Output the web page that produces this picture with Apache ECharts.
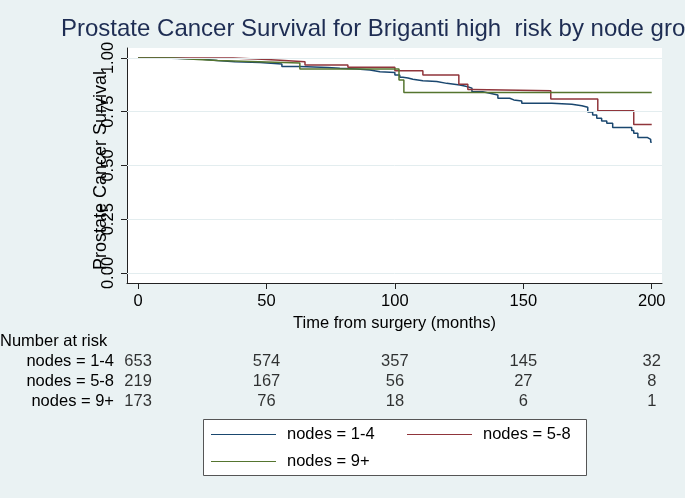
<!DOCTYPE html>
<html>
<head>
<meta charset="utf-8">
<script src="https://cdn.jsdelivr.net/npm/echarts@6/dist/echarts.min.js"></script>
<style>
  html, body { margin: 0; padding: 0; background: #EAF2F3; }
  #myChart { width: 685px; height: 498px; }
</style>
</head>
<body>
<div id="myChart"></div>
<script>
// Kaplan-Meier steps (months, survival)
const timeNodes14 = [0, 9.3, 24.1, 30.7, 37.7, 47.5, 56.0, 63.0, 73.9, 78.6, 85.2, 90.3, 94.2, 100.0, 101.9, 103.1, 105.1, 107.0, 110.9, 116.3, 120.2, 125.3, 128.0, 130.0, 134.2, 137.0, 140.1, 144.7, 146.3, 149.4, 161.1, 168.9, 172.8, 175.1, 177.0, 178.6, 180.5, 182.5, 184.8, 192.2, 193.0, 194.6, 198.4, 199.6, 200]
const survNodes14 = [1.0, 0.995, 0.988, 0.983, 0.979, 0.972, 0.960, 0.956, 0.952, 0.949, 0.944, 0.936, 0.933, 0.921, 0.910, 0.907, 0.901, 0.894, 0.891, 0.882, 0.874, 0.867, 0.860, 0.843, 0.836, 0.828, 0.813, 0.805, 0.800, 0.789, 0.785, 0.778, 0.771, 0.749, 0.735, 0.720, 0.707, 0.696, 0.677, 0.663, 0.650, 0.630, 0.621, 0.608, 0.608]
const timeNodes58 = [0, 37.0, 48.2, 55.3, 65.0, 81.7, 100.0, 110.9, 124.9, 128.4, 130.0, 160.7, 179.0, 193.0, 200]
const survNodes58 = [1.0, 0.994, 0.990, 0.983, 0.967, 0.957, 0.941, 0.921, 0.878, 0.854, 0.848, 0.809, 0.755, 0.691, 0.691]
const timeNodes9 = [0, 13.6, 23.3, 31.1, 43.6, 63.0, 101.6, 103.5, 200]
const survNodes9 = [1.0, 0.993, 0.988, 0.984, 0.977, 0.949, 0.898, 0.839, 0.839]

const groupNames = ['nodes = 1-4', 'nodes = 5-8', 'nodes = 9+']
const xTicks = [0, 50, 100, 150, 200]
const yTicks = [0, 0.25, 0.5, 0.75, 1]

// number at risk
const riskTimes = [0, 50, 100, 150, 200]
const riskNodes14 = [653, 574, 357, 145, 32]
const riskNodes58 = [219, 167, 56, 27, 8]
const riskNodes9 = [173, 76, 18, 6, 1]

const colors = ['#1A476F', '#90353B', '#55752F']
const font = '"Liberation Sans", Arial, sans-serif'

function pairs (t, s) {
  return t.map((v, i) => [v, s[i]])
}

const riskRows = [riskNodes14, riskNodes58, riskNodes9]
const riskData = []
riskRows.forEach((row, r) => {
  row.forEach((n, i) => {
    riskData.push([riskTimes[i], groupNames[r], n])
  })
})

const curves = [pairs(timeNodes14, survNodes14), pairs(timeNodes58, survNodes58), pairs(timeNodes9, survNodes9)]

const legendPos = [
  { left: 211, top: 426 },
  { left: 407, top: 426 },
  { left: 211, top: 453 }
]

let myChart = echarts.init(document.getElementById('myChart'), null, {renderer: 'canvas'})
myChart.setOption({
  backgroundColor: '#EAF2F3',
  animation: false,
  textStyle: { fontFamily: font },
  title: [
    {
      text: 'Prostate Cancer Survival for Briganti high  risk by node group',
      left: 61,
      top: 17,
      padding: 0,
      textStyle: { fontSize: 24, fontWeight: 'normal', color: '#1E2D53', fontFamily: font }
    },
    {
      text: 'Number at risk',
      left: 0,
      top: 333,
      padding: 0,
      textStyle: { fontSize: 16.5, fontWeight: 'normal', color: '#000', fontFamily: font }
    }
  ],
  graphic: [
    {
      type: 'rect',
      shape: { x: 203.5, y: 419.5, width: 383, height: 56 },
      style: { fill: '#fff', stroke: '#555', lineWidth: 1 },
      z: 0
    }
  ],
  legend: legendPos.map((p, i) => ({
    data: [groupNames[i]],
    left: p.left,
    top: p.top,
    padding: 0,
    icon: 'rect',
    itemWidth: 65,
    itemHeight: 1.2,
    textStyle: { fontSize: 16.5, color: '#000', padding: [0, 0, 0, 6], fontFamily: font },
    z: 5
  })),
  grid: [
    {
      left: 127, top: 48, right: 23, bottom: 215,
      show: true, backgroundColor: '#fff', borderWidth: 0
    },
    {
      left: 127, top: 351, right: 23, height: 60
    }
  ],
  xAxis: [
    {
      type: 'value',
      gridIndex: 0,
      min: -4.3,
      max: 204,
      name: 'Time from surgery (months)',
      nameLocation: 'middle',
      nameGap: 32,
      nameMoveOverlap: false,
      nameTextStyle: { fontSize: 16.5, color: '#000' },
      axisLine: { onZero: false, lineStyle: { color: '#222', width: 1 } },
      axisTick: { customValues: xTicks, length: 6, lineStyle: { color: '#222' } },
      axisLabel: { customValues: xTicks, fontSize: 16.5, color: '#000', margin: 10 },
      splitLine: { show: false }
    },
    {
      type: 'value',
      gridIndex: 1,
      min: -4.3,
      max: 204,
      show: false
    }
  ],
  yAxis: [
    {
      type: 'value',
      gridIndex: 0,
      min: -0.0465,
      max: 1.0465,
      name: 'Prostate Cancer Survival',
      nameLocation: 'middle',
      nameGap: 17,
      nameMoveOverlap: false,
      nameTextStyle: { fontSize: 18, color: '#000', padding: [0, 10, 0, 0] },
      axisLine: { show: true, onZero: false, lineStyle: { color: '#222', width: 1 } },
      axisTick: { show: true, customValues: yTicks, length: 6, lineStyle: { color: '#222' } },
      axisLabel: {
        customValues: yTicks,
        rotate: 90,
        fontSize: 16.5,
        color: '#000',
        margin: 10,
        formatter: v => v.toFixed(2)
      },
      splitLine: { show: false }
    },
    {
      type: 'category',
      gridIndex: 1,
      data: groupNames,
      inverse: true,
      axisLine: { show: false },
      axisTick: { show: false },
      axisLabel: { interval: 0, fontSize: 16.5, color: '#000', margin: 13 },
      splitLine: { show: false }
    }
  ],
  series: [
    {
      name: 'grid',
      type: 'line',
      data: [],
      silent: true,
      z: 1,
      markLine: {
        silent: true,
        symbol: 'none',
        label: { show: false },
        lineStyle: { color: '#E3EDEF', type: 'solid', width: 1 },
        data: yTicks.map(v => ({ yAxis: v }))
      }
    },
    ...curves.map((d, i) => ({
      name: groupNames[i],
      type: 'line',
      step: 'end',
      data: d,
      showSymbol: false,
      symbol: 'none',
      color: colors[i],
      lineStyle: { color: colors[i], width: 1.5 },
      z: 3
    })),
    {
      name: 'risk',
      type: 'scatter',
      xAxisIndex: 1,
      yAxisIndex: 1,
      data: riskData,
      symbolSize: 1,
      itemStyle: { color: 'transparent' },
      label: {
        show: true,
        position: 'inside',
        color: '#000',
        fontSize: 16.5,
        formatter: p => String(p.value[2])
      }
    }
  ]
})
</script>
</body>
</html>
